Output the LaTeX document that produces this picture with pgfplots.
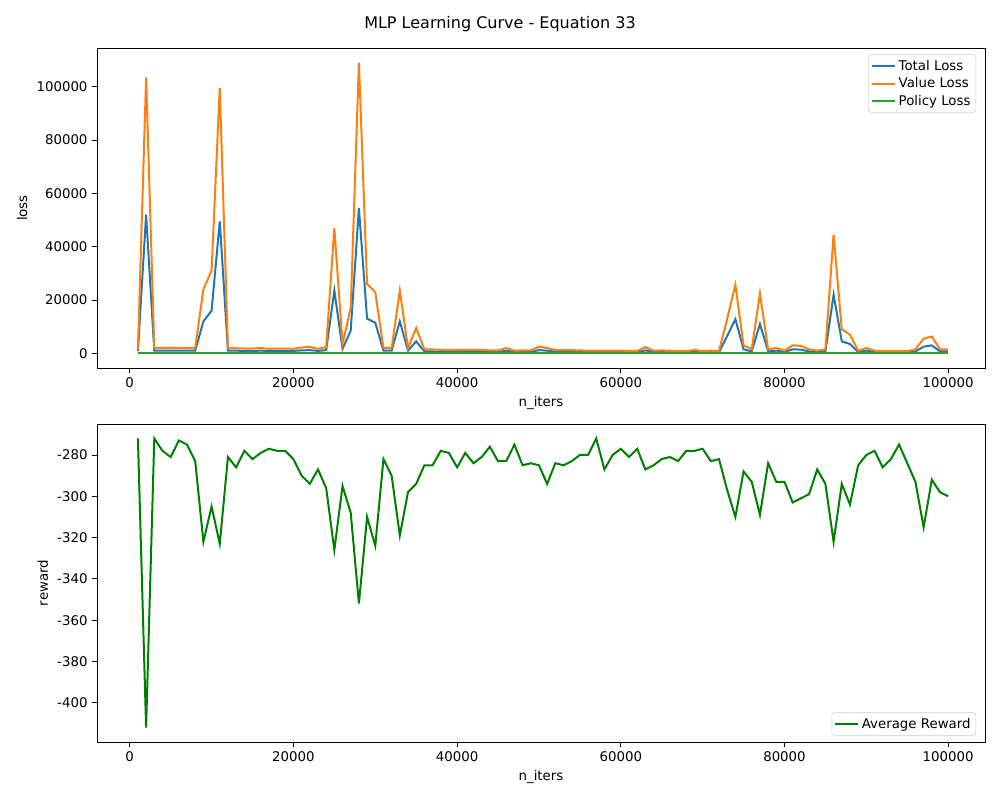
\documentclass[border=0pt]{standalone}
\usepackage{pgfplots}
\pgfplotsset{compat=1.18}
\usepackage{pgfplotstable}
\usepackage{fontspec}
\setmainfont{DejaVu Sans}
\definecolor{c0}{HTML}{1F77B4}
\definecolor{c1}{HTML}{FF7F0E}
\definecolor{c2}{HTML}{2CA02C}
\definecolor{rg}{HTML}{008000}
\pgfplotstableread{
x tot val pol rew
1000 800 1500 0 -272
2000 52000 103500 0 -412
3000 1000 2000 0 -272
4000 1000 2000 0 -278
5000 1000 2000 0 -281
6000 1000 2000 0 -273
7000 1000 1900 0 -275
8000 1000 2000 0 -283
9000 12000 24000 0 -322
10000 16000 31000 0 -305
11000 49500 99500 0 -323
12000 1000 2000 0 -281
13000 1000 1900 0 -286
14000 900 1800 0 -278
15000 900 1800 0 -282
16000 1000 2000 0 -279
17000 900 1700 0 -277
18000 900 1800 0 -278
19000 900 1800 0 -278
20000 900 1700 0 -282
21000 1100 2200 0 -290
22000 1200 2400 0 -294
23000 900 1700 0 -287
24000 1200 2300 0 -296
25000 23500 47000 0 -326
26000 1700 3500 0 -295
27000 8500 17000 0 -308
28000 54500 109000 0 -352
29000 13000 26000 0 -310
30000 11500 23000 0 -324
31000 1000 2000 0 -282
32000 1000 2000 0 -290
33000 12000 23500 0 -319
34000 1000 2000 0 -298
35000 4500 9500 0 -294
36000 700 1500 0 -285
37000 700 1500 0 -285
38000 600 1300 0 -278
39000 600 1200 0 -279
40000 600 1300 0 -286
41000 600 1300 0 -279
42000 600 1300 0 -284
43000 600 1300 0 -281
44000 500 1100 0 -276
45000 500 1100 0 -283
46000 1000 2000 0 -283
47000 500 1000 0 -275
48000 500 1100 0 -285
49000 500 1100 0 -284
50000 1200 2500 0 -285
51000 1000 2000 0 -294
52000 600 1200 0 -284
53000 600 1200 0 -285
54000 600 1200 0 -283
55000 500 1100 0 -280
56000 500 1000 0 -280
57000 500 1000 0 -272
58000 500 1000 0 -287
59000 500 1000 0 -280
60000 500 1000 0 -277
61000 400 900 0 -281
62000 400 900 0 -277
63000 1100 2300 0 -287
64000 500 1000 0 -285
65000 500 1100 0 -282
66000 500 1000 0 -281
67000 400 800 0 -283
68000 400 800 0 -278
69000 600 1300 0 -278
70000 400 800 0 -277
71000 500 1000 0 -283
72000 400 800 0 -282
73000 6500 13000 0 -297
74000 12800 25700 0 -310
75000 1500 3000 0 -288
76000 700 1500 0 -293
77000 11000 22500 0 -309
78000 700 1500 0 -284
79000 1000 2000 0 -293
80000 500 1000 0 -293
81000 1500 3000 0 -303
82000 1400 2800 0 -301
83000 700 1500 0 -299
84000 500 1000 0 -287
85000 700 1500 0 -294
86000 22000 44500 0 -322
87000 4500 9000 0 -294
88000 3500 7000 0 -304
89000 500 1000 0 -285
90000 1000 2000 0 -280
91000 500 1000 0 -278
92000 400 800 0 -286
93000 400 800 0 -282
94000 400 800 0 -275
95000 400 800 0 -284
96000 700 1500 0 -293
97000 2500 5500 0 -315
98000 3000 6300 0 -292
99000 700 1500 0 -298
100000 700 1500 0 -300
}\data
\begin{document}
\fontsize{10}{12}\selectfont
\begin{tikzpicture}[x=1pt,y=1pt]
\path (0,0) rectangle (750,600);
\node at (375,582) {\fontsize{12}{14}\selectfont MLP Learning Curve - Equation 33};
\pgfplotsset{every axis/.append style={
  scale only axis, width=666pt, height=240pt,
  xmin=-4000, xmax=104500,
  xtick={0,20000,...,100000},
  scaled ticks=false,
  /pgf/number format/.cd, fixed, 1000 sep={}, assume math mode=true, /pgfplots/.cd,
  tick style={black, line width=0.6pt}, tick align=outside, major tick length=3.6pt,
  axis line style={line width=0.6pt},
  xtick pos=bottom, ytick pos=left,
  tick label style={font=\fontsize{10}{12}\selectfont},
  label style={font=\fontsize{10}{12}\selectfont},
  legend style={font=\fontsize{10}{12}\selectfont, draw=black!20, rounded corners=2pt, cells={anchor=west}, inner sep=2pt},
  legend cell align=left,
  legend image post style={line width=1.5pt},
}}
\begin{axis}[at={(72.75pt,324pt)}, anchor=south west,
  ymin=-5500, ymax=114500, ytick={0,20000,...,100000},
  xlabel={n\_iters}, ylabel={loss},
  legend style={at={(0.99,0.98)}, anchor=north east}]
\addplot[c0, line width=1.5pt, no marks] table[x=x,y=tot]{\data};
\addplot[c1, line width=1.5pt, no marks] table[x=x,y=val]{\data};
\addplot[c2, line width=1.5pt, no marks] table[x=x,y=pol]{\data};
\legend{Total Loss, Value Loss, Policy Loss}
\end{axis}
\begin{axis}[at={(72.75pt,43.5pt)}, anchor=south west, height=238.5pt,
  ymin=-419, ymax=-265, ytick={-400,-380,...,-280},
  xlabel={n\_iters}, ylabel={reward},
  legend style={at={(0.99,0.02)}, anchor=south east}]
\addplot[rg, line width=1.5pt, no marks] table[x=x,y=rew]{\data};
\legend{Average Reward}
\end{axis}
\end{tikzpicture}
\end{document}
